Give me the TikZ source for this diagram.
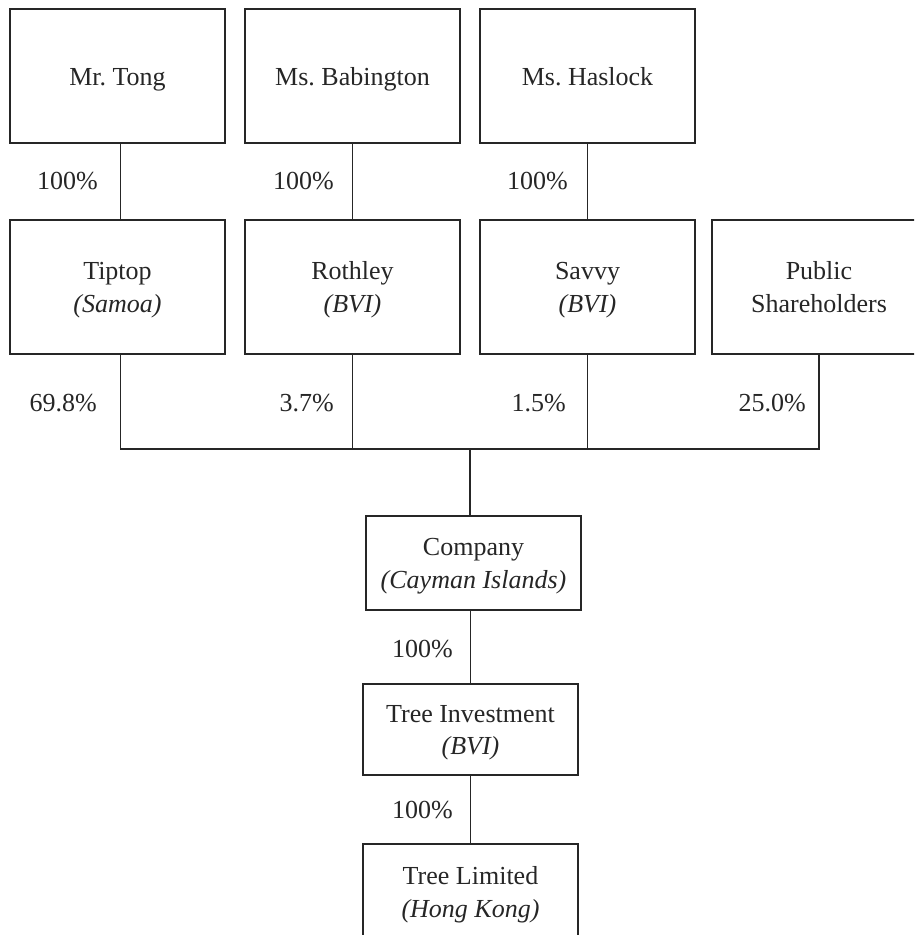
\documentclass[tikz,border=0pt]{standalone}
\usepackage{fontspec}
\setmainfont{Liberation Serif}
\definecolor{ink}{HTML}{262626}
\begin{document}
\begin{tikzpicture}[x=1pt,y=-1pt,
  every node/.style={text=ink, font=\fontsize{26}{32.5}\selectfont},
  entity/.style={draw=ink, line width=1.1pt, rectangle, align=center,
    inner sep=0pt, minimum width=215pt, text height=55pt, text depth=5pt},
  toprow/.style={entity, minimum height=134pt, text height=24pt, text depth=6pt},
  midrow/.style={entity, minimum height=134pt},
  share/.style={anchor=base east, inner sep=0pt},
  link/.style={draw=ink, line width=1.1pt}]
\useasboundingbox (0,0) rectangle (914,935);
\clip (0,0) rectangle (914,935);
\fill[white] (0,0) rectangle (914,935);

% individual shareholders
\node[toprow] (tong) at (117.5,76) {Mr.\ Tong};
\node[toprow] (bab)  at (352.5,76) {Ms.\ Babington};
\node[toprow] (has)  at (587.5,76) {Ms.\ Haslock};

% holding vehicles and the public
\node[midrow] (tip) at (117.5,287) {Tiptop\\\textit{(Samoa)}};
\node[midrow] (rot) at (352.5,287) {Rothley\\\textit{(BVI)}};
\node[midrow] (sav) at (587.5,287) {Savvy\\\textit{(BVI)}};
\node[midrow, minimum width=214pt] (pub) at (819,287) {Public\\Shareholders};

% group entities
\node[entity, minimum height=94pt] (comp) at (473.5,563) {Company\\\textit{(Cayman Islands)}};
\node[entity, minimum height=91pt] (inv)  at (470.5,729.5) {Tree Investment\\\textit{(BVI)}};
\node[entity, minimum height=96pt] (lim)  at (470.5,892) {Tree Limited\\\textit{(Hong Kong)}};

% junction of the ownership lines
\coordinate (bus) at (470,449);

% ownership lines
\draw[link] ([xshift=3pt]tong.south) -- ([xshift=3pt]tip.north);
\draw[link] (bab.south) -- (rot.north);
\draw[link] (has.south) -- (sav.north);
\draw[link] ([xshift=3pt]tip.south) -- ([xshift=3pt]tip.south |- bus)
  -- (pub.south |- bus) -- (pub.south);
\draw[link] (rot.south) -- (rot.south |- bus);
\draw[link] (sav.south) -- (sav.south |- bus);
\draw[link] (bus) -- (bus |- comp.north);
\draw[link] (inv.north |- comp.south) -- (inv.north);
\draw[link] (inv.south) -- (lim.north);

% percentages
\node[share] (p1) at (98,189) {100\%};
\node[share] (p2) at (334,189) {100\%};
\node[share] (p3) at (568,189) {100\%};
\node[share] (p4) at (97,411) {69.8\%};
\node[share] (p5) at (334,411) {3.7\%};
\node[share] (p6) at (566,411) {1.5\%};
\node[share] (p7) at (806,411) {25.0\%};
\node[share] (p8) at (453,657) {100\%};
\node[share] (p9) at (453,818) {100\%};
\end{tikzpicture}
\end{document}
